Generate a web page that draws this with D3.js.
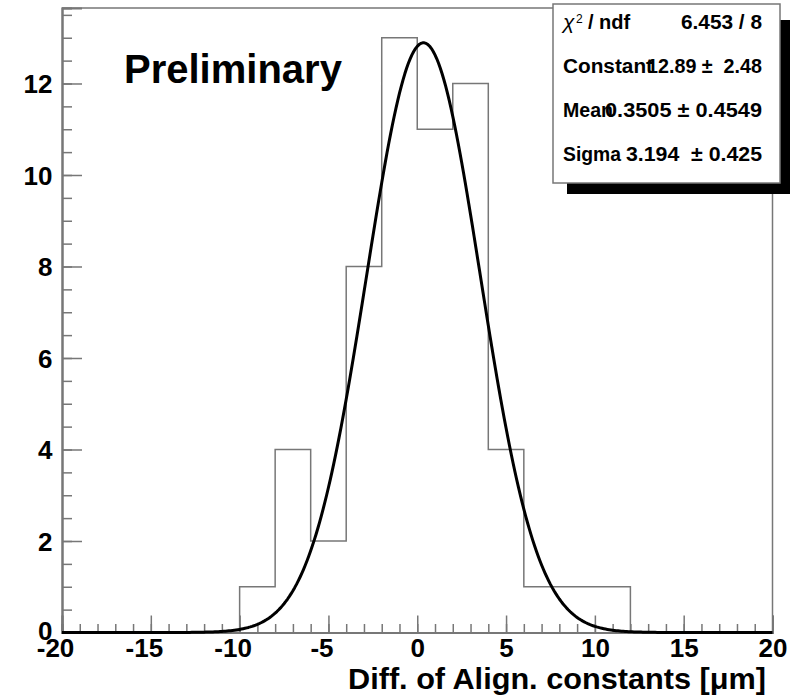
<!DOCTYPE html>
<html>
<head>
<meta charset="utf-8">
<script src="https://cdn.jsdelivr.net/npm/d3@7"></script>
<style>
  html, body { margin: 0; padding: 0; background: #fff; }
  svg { display: block; }
  text { font-family: "Liberation Sans", Arial, Helvetica, sans-serif; }
</style>
</head>
<body>
<svg id="chart" width="796" height="697"></svg>
<script>
// ---------- data ----------
const binLowEdges = [-20,-18,-16,-14,-12,-10,-8,-6,-4,-2,0,2,4,6,8,10,12,14,16,18];
const binWidth = 2;
const counts      = [0,0,0,0,0,1,4,2,8,13,11,12,4,1,1,1,0,0,0,0];

const xMajorTicks = [-20,-15,-10,-5,0,5,10,15,20];
const yMajorTicks = [0,2,4,6,8,10,12];

// Gaussian fit parameters (from the stats box)
const fitConstant = 12.89;
const fitMean = 0.3505;
const fitSigma = 3.194;

const statNames  = ["Constant", "Mean", "Sigma"];
const statValues = ["12.89 \u00B1  2.48", "0.3505 \u00B1 0.4549", "3.194  \u00B1 0.425"];
const chi2Value  = "6.453 / 8";

// ---------- layout ----------
const svg = d3.select("#chart");
const L = 62, R = 772.5, T = 8, B = 632.5;
const x = d3.scaleLinear().domain([-20, 20]).range([L, R]);
const y = d3.scaleLinear().domain([0, 13.65]).range([B, T]);
const gray = "#777";

svg.append("rect").attr("width", 796).attr("height", 697).attr("fill", "#fff");

// frame (top, right)
svg.append("path")
  .attr("d", `M${L},${T}H${R}V${B}`)
  .attr("fill", "none").attr("stroke", gray).attr("stroke-width", 1.5);

// histogram outline
const histPts = [];
binLowEdges.forEach((lo, i) => {
  histPts.push([lo, counts[i]]);
  histPts.push([lo + binWidth, counts[i]]);
});
histPts.unshift([binLowEdges[0], 0]);
histPts.push([binLowEdges[binLowEdges.length - 1] + binWidth, 0]);
svg.append("path")
  .datum(histPts)
  .attr("d", d3.line().x(d => x(d[0])).y(d => y(d[1])))
  .attr("fill", "none").attr("stroke", gray).attr("stroke-width", 1.5);

// x axis (ticks pointing up into the plot)
const xMinor = d3.range(-20, 20.001, 1);
const gxMinor = svg.append("g").attr("transform", `translate(0,${B})`)
  .call(d3.axisBottom(x).tickValues(xMinor).tickSize(-8.5).tickFormat(""));
const gx = svg.append("g").attr("transform", `translate(0,${B})`)
  .call(d3.axisBottom(x).tickValues(xMajorTicks).tickSize(-17).tickPadding(6).tickFormat(d3.format("d")));
[gxMinor, gx].forEach(g => {
  g.select(".domain").attr("stroke", gray).attr("stroke-width", 2);
  g.selectAll(".tick line").attr("stroke", gray).attr("stroke-width", 1.5);
});
gx.selectAll(".tick text")
  .attr("fill", "#000")
  .attr("font-size", 26).attr("font-weight", "bold")
  .attr("font-family", "'Liberation Sans', Arial, sans-serif")
  .attr("dx", d => d < 0 ? -7 : 0)
  .text(d => d < 0 ? "-" + Math.abs(d) : String(d));

// y axis (ticks pointing right)
const yMinor = d3.range(0, 13.6, 0.5);
const gyMinor = svg.append("g").attr("transform", `translate(${L},0)`)
  .call(d3.axisLeft(y).tickValues(yMinor).tickSize(-10).tickFormat(""));
const gy = svg.append("g").attr("transform", `translate(${L},0)`)
  .call(d3.axisLeft(y).tickValues(yMajorTicks).tickSize(-20).tickPadding(9.5).tickFormat(d3.format("d")));
[gyMinor, gy].forEach(g => {
  g.select(".domain").attr("stroke", gray).attr("stroke-width", 2);
  g.selectAll(".tick line").attr("stroke", gray).attr("stroke-width", 1.5);
});
gy.selectAll(".tick text")
  .attr("fill", "#000")
  .attr("font-size", 26).attr("font-weight", "bold")
  .attr("font-family", "'Liberation Sans', Arial, sans-serif")
  .attr("dy", d => d === 0 ? "0.25em" : "0.36em");

// fitted gaussian
const gauss = v => fitConstant * Math.exp(-0.5 * Math.pow((v - fitMean) / fitSigma, 2));
const xs = d3.range(-20, 20.0001, 0.1);
svg.append("path")
  .datum(xs)
  .attr("d", d3.line().x(d => x(d)).y(d => y(gauss(d))))
  .attr("fill", "none").attr("stroke", "#000").attr("stroke-width", 3)
  .attr("stroke-linejoin", "round");

// Preliminary label
svg.append("text").attr("x", 124).attr("y", 83)
  .attr("font-size", 40).attr("font-weight", "bold").attr("fill", "#000")
  .text("Preliminary");

// x-axis title
svg.append("text").attr("x", 766).attr("y", 689)
  .attr("text-anchor", "end")
  .attr("font-size", 29).attr("font-weight", "bold").attr("fill", "#000")
  .attr("textLength", 418).attr("lengthAdjust", "spacingAndGlyphs")
  .text("Diff. of Align. constants [\u03BCm]");

// stats box
svg.append("rect").attr("x", 567).attr("y", 20).attr("width", 223).attr("height", 174).attr("fill", "#000");
svg.append("rect").attr("x", 553).attr("y", 4).attr("width", 227).attr("height", 179)
  .attr("fill", "#fff").attr("stroke", gray).attr("stroke-width", 1.5);

const sx = 563, vx = 762;
const rowY = [29, 73, 117, 161];
const nameW  = [90, 50, 58];
const valueW = [115, 157, 136];
// chi2 row
svg.append("text").attr("x", sx).attr("y", rowY[0])
  .attr("font-size", 21).attr("font-family", "'Liberation Serif', serif").attr("font-style", "italic")
  .attr("fill", "#000").text("\u03C7");
svg.append("text").attr("x", 576).attr("y", rowY[0] - 6)
  .attr("font-size", 12).attr("fill", "#000").text("2");
svg.append("text").attr("x", 588).attr("y", rowY[0])
  .attr("font-size", 20).attr("font-weight", "bold").attr("fill", "#000")
  .attr("xml:space", "preserve").text("/ ndf");
svg.append("text").attr("x", vx).attr("y", rowY[0]).attr("text-anchor", "end")
  .attr("font-size", 20).attr("font-weight", "bold").attr("fill", "#000")
  .attr("textLength", 81).attr("lengthAdjust", "spacingAndGlyphs")
  .text(chi2Value);

statNames.forEach((n, i) => {
  svg.append("text").attr("x", sx).attr("y", rowY[i + 1])
    .attr("font-size", 20).attr("font-weight", "bold").attr("fill", "#000")
    .attr("textLength", nameW[i]).attr("lengthAdjust", "spacingAndGlyphs")
    .text(n);
  svg.append("text").attr("x", vx).attr("y", rowY[i + 1]).attr("text-anchor", "end")
    .attr("font-size", 20).attr("font-weight", "bold").attr("fill", "#000")
    .attr("xml:space", "preserve").style("white-space", "pre")
    .attr("textLength", valueW[i]).attr("lengthAdjust", "spacingAndGlyphs")
    .text(statValues[i]);
});
</script>
</body>
</html>
